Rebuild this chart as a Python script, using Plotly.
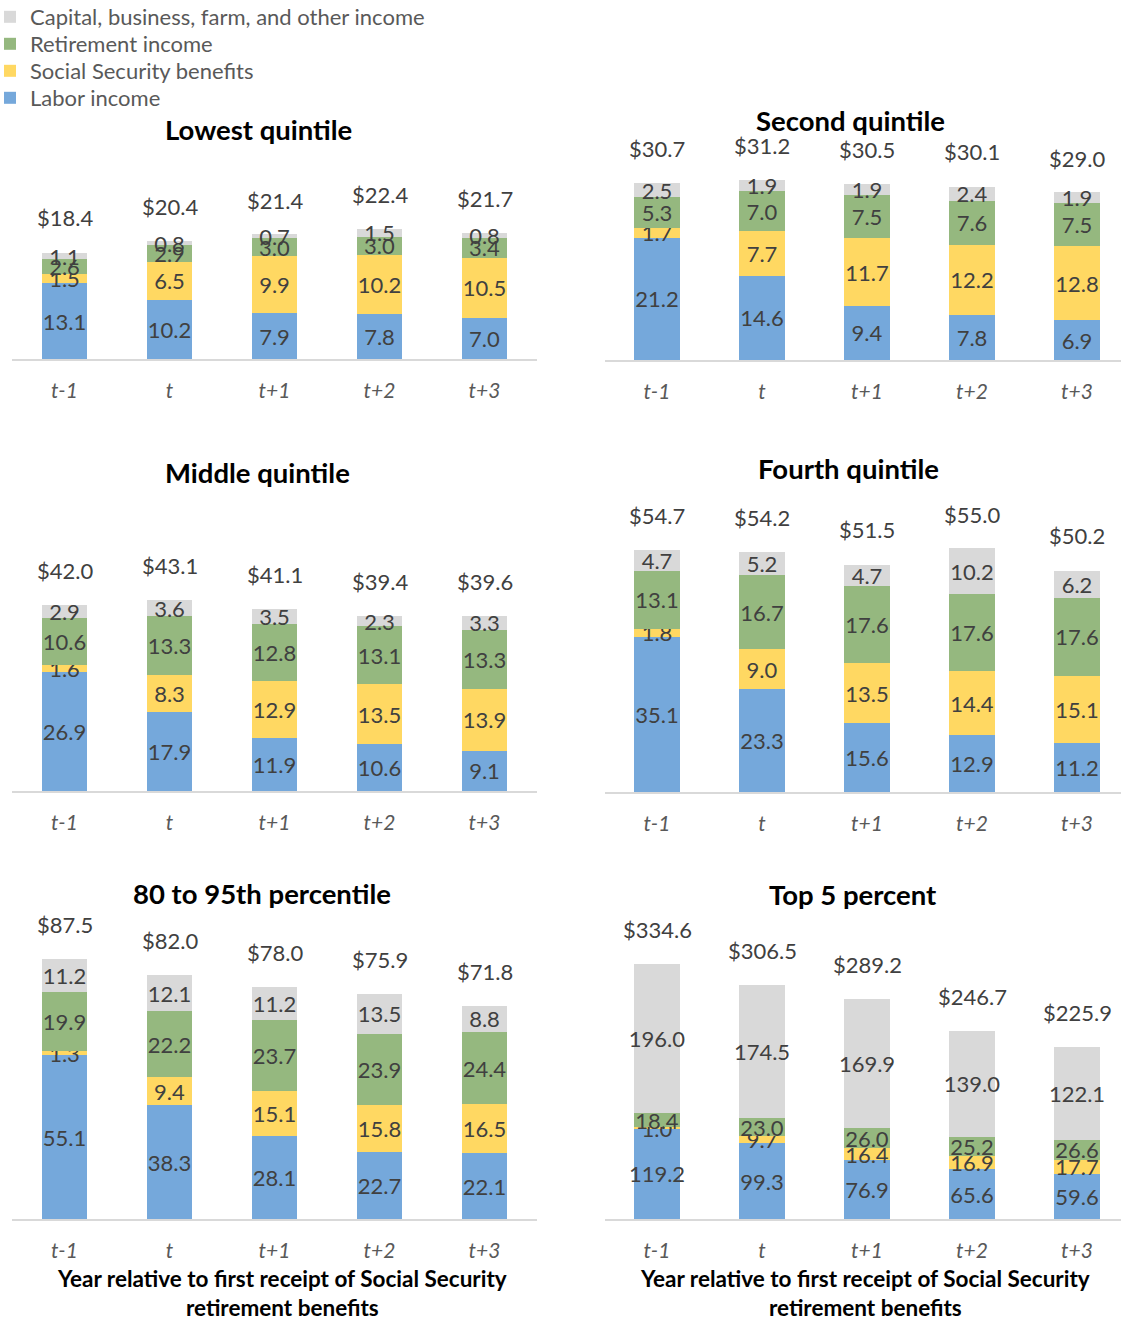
import plotly.graph_objects as go

# ---------------- data ----------------
categories = ["t-1", "t", "t+1", "t+2", "t+3"]
series_names = ["Labor income", "Social Security benefits", "Retirement income",
                "Capital, business, farm, and other income"]
panel_titles = ["Lowest quintile", "Second quintile", "Middle quintile",
                "Fourth quintile", "80 to 95th percentile", "Top 5 percent"]

lowest_labor = [13.1, 10.2, 7.9, 7.8, 7.0]
lowest_ss = [1.5, 6.5, 9.9, 10.2, 10.5]
lowest_ret = [2.6, 2.9, 3.0, 3.0, 3.4]
lowest_cap = [1.1, 0.8, 0.7, 1.5, 0.8]
lowest_total = [18.4, 20.4, 21.4, 22.4, 21.7]

second_labor = [21.2, 14.6, 9.4, 7.8, 6.9]
second_ss = [1.7, 7.7, 11.7, 12.2, 12.8]
second_ret = [5.3, 7.0, 7.5, 7.6, 7.5]
second_cap = [2.5, 1.9, 1.9, 2.4, 1.9]
second_total = [30.7, 31.2, 30.5, 30.1, 29.0]

middle_labor = [26.9, 17.9, 11.9, 10.6, 9.1]
middle_ss = [1.6, 8.3, 12.9, 13.5, 13.9]
middle_ret = [10.6, 13.3, 12.8, 13.1, 13.3]
middle_cap = [2.9, 3.6, 3.5, 2.3, 3.3]
middle_total = [42.0, 43.1, 41.1, 39.4, 39.6]

fourth_labor = [35.1, 23.3, 15.6, 12.9, 11.2]
fourth_ss = [1.8, 9.0, 13.5, 14.4, 15.1]
fourth_ret = [13.1, 16.7, 17.6, 17.6, 17.6]
fourth_cap = [4.7, 5.2, 4.7, 10.2, 6.2]
fourth_total = [54.7, 54.2, 51.5, 55.0, 50.2]

p80_labor = [55.1, 38.3, 28.1, 22.7, 22.1]
p80_ss = [1.3, 9.4, 15.1, 15.8, 16.5]
p80_ret = [19.9, 22.2, 23.7, 23.9, 24.4]
p80_cap = [11.2, 12.1, 11.2, 13.5, 8.8]
p80_total = [87.5, 82.0, 78.0, 75.9, 71.8]

top5_labor = [119.2, 99.3, 76.9, 65.6, 59.6]
top5_ss = [1.0, 9.7, 16.4, 16.9, 17.7]
top5_ret = [18.4, 23.0, 26.0, 25.2, 26.6]
top5_cap = [196.0, 174.5, 169.9, 139.0, 122.1]
top5_total = [334.6, 306.5, 289.2, 246.7, 225.9]

x_axis_title = "Year relative to first receipt of Social Security<br>retirement benefits"

# ---------------- styling ----------------
W, H = 1121, 1320
FONT = "Lato, 'Open Sans', sans-serif"
colors = ["#75A8DB", "#FFD862", "#95B87F", "#D9D9D9"]
label_color = "#404040"
tick_color = "#595959"
LABEL_SIZE = 22

panels = [
    (lowest_labor, lowest_ss, lowest_ret, lowest_cap, lowest_total),
    (second_labor, second_ss, second_ret, second_cap, second_total),
    (middle_labor, middle_ss, middle_ret, middle_cap, middle_total),
    (fourth_labor, fourth_ss, fourth_ret, fourth_cap, fourth_total),
    (p80_labor, p80_ss, p80_ret, p80_cap, p80_total),
    (top5_labor, top5_ss, top5_ret, top5_cap, top5_total),
]

# geometry (pixels): baseline y, plot top y, pixels per unit, title y, title x-center
geo = [
    dict(base=359, top=150, ppu=5.80, ty=129, tx=258),
    dict(base=360, top=150, ppu=5.77, ty=120, tx=850),
    dict(base=791, top=500, ppu=4.43, ty=472, tx=257),
    dict(base=792, top=500, ppu=4.42, ty=469, tx=848),
    dict(base=1219, top=910, ppu=2.97, ty=893, tx=262),
    dict(base=1219, top=910, ppu=0.762, ty=895, tx=853),
]

left_x = (12, 537)
right_x = (604.5, 1129.5)

# legend rows (pixel centre y), one legend per series so row spacing matches
legend_rows = {3: 17, 2: 44, 1: 71, 0: 98}
legend_ids = {3: "legend", 2: "legend2", 1: "legend3", 0: "legend4"}

fig = go.Figure()
annotations = []

for i, (vals, g) in enumerate(zip(panels, geo)):
    n = i + 1
    xa = "x" if n == 1 else f"x{n}"
    ya = "y" if n == 1 else f"y{n}"
    for s in range(4):
        fig.add_trace(go.Bar(
            x=categories, y=vals[s], name=series_names[s],
            marker=dict(color=colors[s], line=dict(width=0)),
            text=[f"{v:.1f}" for v in vals[s]],
            textposition="inside", insidetextanchor="middle",
            textangle=0, constraintext="none",
            textfont=dict(family=FONT, size=LABEL_SIZE, color=label_color),
            showlegend=(i == 0), legend=legend_ids[s],
            xaxis=xa, yaxis=ya, hoverinfo="skip",
        ))
    # totals
    for c, t in zip(categories, vals[4]):
        annotations.append(dict(
            x=c, y=t, xref=xa, yref=ya, text=f"${t:.1f}", showarrow=False,
            yanchor="bottom", yshift=19,
            font=dict(family=FONT, size=LABEL_SIZE, color=label_color)))
    # title
    annotations.append(dict(
        x=g["tx"] / W, y=1 - g["ty"] / H, xref="paper", yref="paper",
        text=f"<b>{panel_titles[i]}</b>", showarrow=False,
        xanchor="center", yanchor="middle",
        font=dict(family=FONT, size=27.5, color="#000000")))

    col_left = (i % 2 == 0)
    xl, xr = left_x if col_left else right_x
    rng_hi = 4.5
    if xr > W:
        rng_hi = 4.5 - (xr - W) / 105.0
        xr = W
    xkey = "xaxis" if n == 1 else f"xaxis{n}"
    ykey = "yaxis" if n == 1 else f"yaxis{n}"
    fig.layout[xkey] = dict(
        domain=[xl / W, xr / W], anchor=ya, range=[-0.5, rng_hi],
        type="category", showline=True, linecolor="#D9D9D9", linewidth=2,
        showgrid=False, zeroline=False, ticks="", fixedrange=True,
        ticklabelstandoff=12,
        tickfont=dict(family=FONT, size=21, color=tick_color, style="italic"),
    )
    fig.layout[ykey] = dict(
        domain=[1 - g["base"] / H, 1 - g["top"] / H], anchor=xa,
        range=[0, (g["base"] - g["top"]) / g["ppu"]],
        visible=False, showgrid=False, zeroline=False, fixedrange=True,
    )

# x axis titles for bottom row
for cx in (282, 865):
    annotations.append(dict(
        x=cx / W, y=1 - 1263 / H, xref="paper", yref="paper",
        text=f"<b>{x_axis_title}</b>", showarrow=False,
        xanchor="center", yanchor="top",
        font=dict(family=FONT, size=22.5, color="#000000")))

legend_common = dict(
    xanchor="left", yanchor="middle", bgcolor="rgba(0,0,0,0)",
    font=dict(family=FONT, size=22, color=tick_color),
    itemclick=False, itemdoubleclick=False,
)
layout_legends = {}
for s, lid in legend_ids.items():
    layout_legends[lid] = dict(x=-10 / W, y=1 - legend_rows[s] / H, **legend_common)

fig.update_layout(
    width=W, height=H,
    margin=dict(l=0, r=0, t=0, b=0, autoexpand=False),
    barmode="stack", bargap=0.57,
    plot_bgcolor="white", paper_bgcolor="white",
    font=dict(family=FONT, size=20, color=tick_color),
    uniformtext=dict(mode="show", minsize=LABEL_SIZE),
    showlegend=True,
    annotations=annotations,
    **layout_legends,
)

fig.write_html(
    "out.html",
    config={"displayModeBar": False},
    post_script="document.body.style.margin='0';document.body.style.overflow='hidden';",
)
